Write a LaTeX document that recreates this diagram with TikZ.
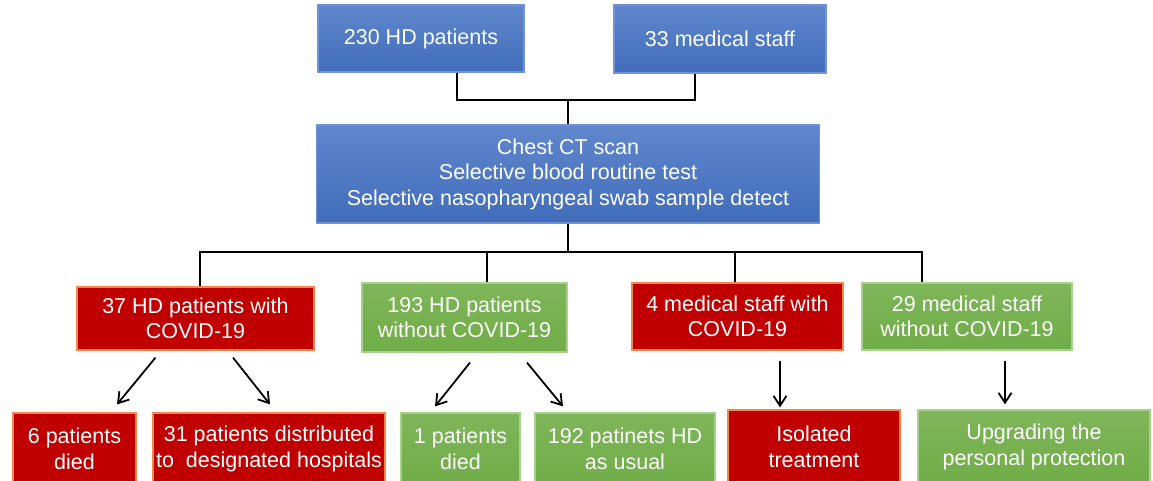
\documentclass[tikz,border=0pt]{standalone}
\usepackage{fontspec}
\setmainfont{Liberation Sans}
\usetikzlibrary{arrows.meta}
\definecolor{bluef}{HTML}{4472C4}
\definecolor{blueb}{HTML}{6F93D6}
\definecolor{redf}{HTML}{C00000}
\definecolor{redb}{HTML}{F4874A}
\definecolor{greenf}{HTML}{70AD47}
\definecolor{greenb}{HTML}{A9D18E}
\tikzset{
  box/.style={rectangle, inner sep=0pt, align=center, text=white,
    font=\fontsize{21.5}{25.5}\selectfont, line width=1.2pt},
  bluebox/.style={box, draw=blueb, top color=bluef!85!white, bottom color=bluef!95!black},
  redbox/.style={box, draw=redb, fill=redf},
  greenbox/.style={box, draw=greenb, top color=greenf!90!white, bottom color=greenf},
  conn/.style={line width=2.4pt, black},
  arr/.style={line width=1.8pt, black, -{Straight Barb[length=10pt,width=13pt,line width=1.8pt]}}
}
\begin{document}
\begin{tikzpicture}[x=1pt,y=-1pt]
\useasboundingbox (0,0) rectangle (1153,481);
\node[bluebox, minimum width=206, minimum height=67] (p230) at (421,38.5) {230 HD patients};
\node[bluebox, minimum width=212, minimum height=68] (s33) at (720,39) {33 medical staff};
\node[bluebox, minimum width=503, minimum height=98] (chest) at (568,174)
  {Chest CT scan\\Selective blood routine test\\Selective nasopharyngeal swab sample detect};
\node[redbox, minimum width=237, minimum height=63] (r37) at (195.5,318.5) {37 HD patients with\\COVID-19};
\node[greenbox, minimum width=205, minimum height=69] (g193) at (464.5,317.5) {193 HD patients\\without COVID-19};
\node[redbox, minimum width=211, minimum height=67] (r4) at (737.5,316.5) {4 medical staff with\\COVID-19};
\node[greenbox, minimum width=210, minimum height=67] (g29) at (967,316.5) {29 medical staff\\without COVID-19};
\node[redbox, minimum width=123, minimum height=72] (r6) at (74.5,449) {6 patients\\died};
\node[redbox, minimum width=232, minimum height=72] (r31) at (269,449) {31 patients distributed\\to\ \ designated hospitals};
\node[greenbox, minimum width=119, minimum height=72] (g1) at (460.5,449) {1 patients\\died};
\node[greenbox, minimum width=180, minimum height=72] (g192) at (625,449) {192 patinets HD\\as usual};
\node[redbox, minimum width=172, minimum height=74] (riso) at (814,447) {Isolated\\treatment};
\node[greenbox, minimum width=232, minimum height=74] (gup) at (1034,447) {Upgrading the\\personal protection};
\coordinate (jt) at (568,100);
\coordinate (jb) at (568,252);
\draw[conn] ([xshift=36]p230.south) |- (jt) -| ([xshift=-25]s33.south);
\draw[conn] (jt) -- (chest.north);
\draw[conn] (chest.south) -- (jb);
\draw[conn] ([xshift=4.5]r37.north) |- (jb) -| ([xshift=-45]g29.north);
\draw[conn] ([xshift=22.5]g193.north) |- (jb);
\draw[conn] ([xshift=-2.5]r4.north) |- (jb);
\draw[arr] ([xshift=-40,yshift=-7]r37.south) -- ([xshift=42.5,yshift=8]r6.north);
\draw[arr] ([xshift=37.5,yshift=-7]r37.south) -- ([xshift=1,yshift=8]r31.north);
\draw[arr] ([xshift=5.5,yshift=-10]g193.south) -- ([xshift=-25.5,yshift=6]g1.north);
\draw[arr] ([xshift=62.5,yshift=-10]g193.south) -- ([xshift=-62,yshift=6]g192.north);
\draw[arr] ([xshift=42.5,yshift=-10]r4.south) -- ([xshift=-34,yshift=2]riso.north);
\draw[arr] ([xshift=38,yshift=-10]g29.south) -- ([xshift=-29,yshift=5]gup.north);
\end{tikzpicture}
\end{document}
